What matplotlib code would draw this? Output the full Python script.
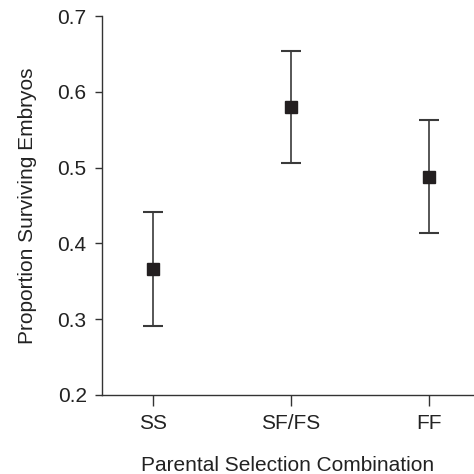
import matplotlib.pyplot as plt

plt.rcParams['font.family'] = ['Liberation Sans', 'DejaVu Sans']

groups = ['SS', 'SF/FS', 'FF']
means = [0.366, 0.580, 0.488]
lower = [0.291, 0.506, 0.414]
upper = [0.441, 0.654, 0.563]

err_lo = [m - l for m, l in zip(means, lower)]
err_hi = [u - m for m, u in zip(means, upper)]
x = list(range(len(groups)))

fig = plt.figure(figsize=(4.74, 4.74), dpi=100)
ax = fig.add_axes([0.215, 0.167, 0.785, 0.799])

ax.errorbar(x, means, yerr=[err_lo, err_hi], fmt='s', color='#231f20',
            ecolor='#3a3a3a', elinewidth=1.2, capsize=7, capthick=1.5,
            markersize=8.5)

ax.set_xlim(-0.37, 2.33)
ax.set_ylim(0.2, 0.7)
ax.set_xticks(x)
ax.set_xticklabels(groups)
ax.set_yticks([0.2, 0.3, 0.4, 0.5, 0.6, 0.7])

ax.spines['top'].set_visible(False)
ax.spines['right'].set_visible(False)
for s in ['left', 'bottom']:
    ax.spines[s].set_color('#333333')
    ax.spines[s].set_linewidth(1.0)

ax.tick_params(axis='x', length=8, width=1, color='#333333', labelsize=15,
               pad=6, labelcolor='#222222')
ax.tick_params(axis='y', length=5, width=1, color='#333333', labelsize=15,
               pad=6, labelcolor='#222222')

ax.set_xlabel('Parental Selection Combination', fontsize=15, color='#222222',
              labelpad=16)
ax.set_ylabel('Proportion Surviving Embryos', fontsize=15, color='#222222',
              labelpad=15)

fig.savefig('out.png', dpi=100)
